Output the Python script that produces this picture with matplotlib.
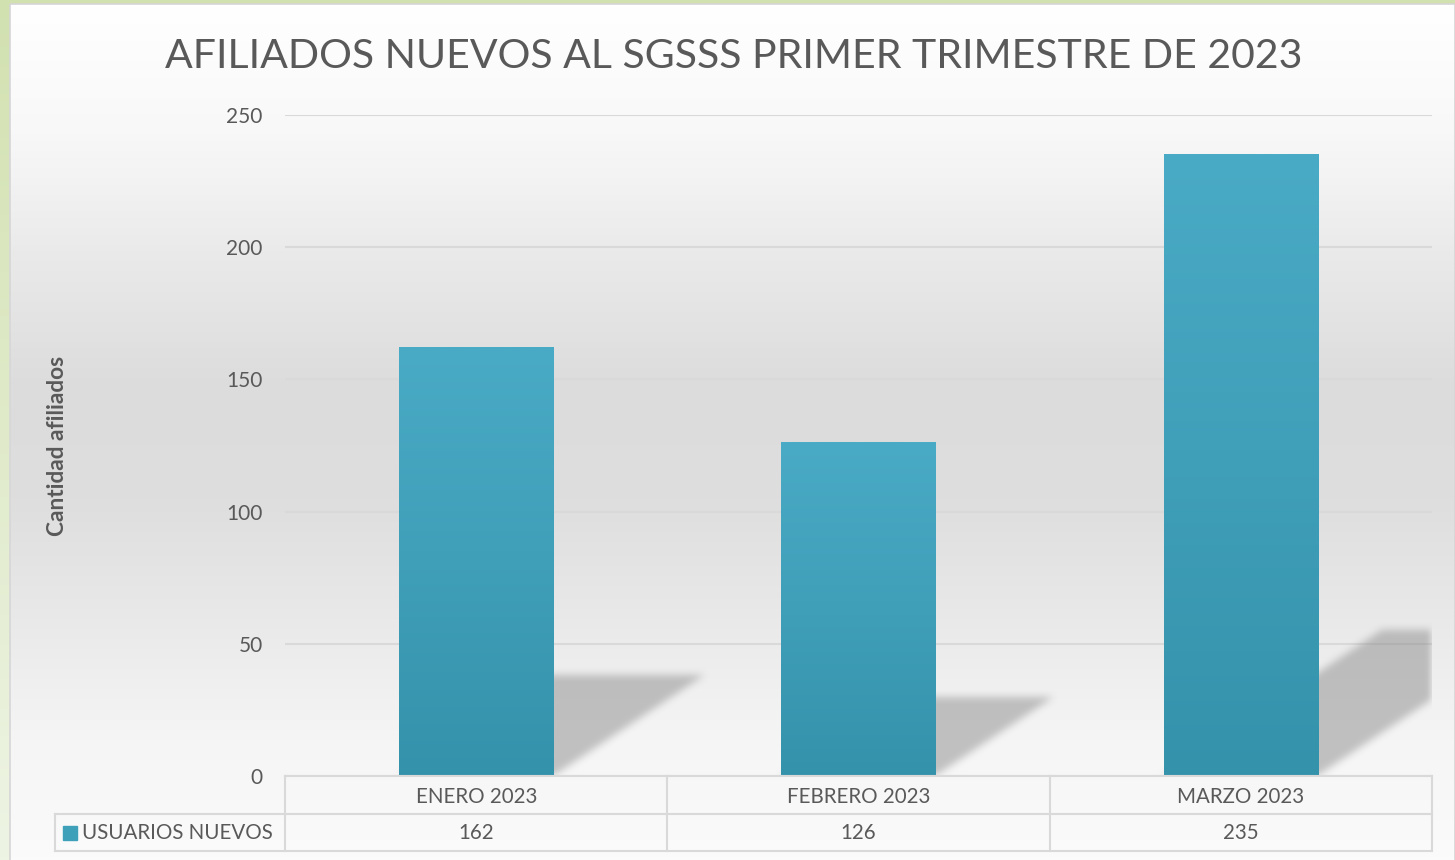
import numpy as np
import matplotlib.pyplot as plt
from matplotlib.colors import LinearSegmentedColormap
from matplotlib.patches import Rectangle

# data
months = ["ENERO 2023", "FEBRERO 2023", "MARZO 2023"]
usuarios = [162, 126, 235]
series_name = "USUARIOS NUEVOS"
title = "AFILIADOS NUEVOS AL SGSSS PRIMER TRIMESTRE DE 2023"
ylabel = "Cantidad afiliados"
yticks = [0, 50, 100, 150, 200, 250]

W, H = 1455, 860
TXT = "#595959"
GRID = "#d9d9d9"
plt.rcParams["font.family"] = ["Lato", "DejaVu Sans"]

fig = plt.figure(figsize=(W / 100, H / 100), dpi=100)

# slide edge + chart panel background
bg = fig.add_axes([0, 0, 1, 1], zorder=-10)
bg.axis("off")
green = LinearSegmentedColormap.from_list("g", ["#d2e1b0", "#eef4e4"])
bg.imshow(np.linspace(0, 1, 256)[:, None], cmap=green, aspect="auto",
          extent=(0, W, H, 0))
panel = LinearSegmentedColormap.from_list(
    "p", [(0, "#ffffff"), (0.15, "#f8f8f8"), (0.3, "#e9e9e9"), (0.45, "#dcdcdc"),
          (0.58, "#dedede"), (0.72, "#e9e9e9"), (0.86, "#f5f5f5"), (1, "#fbfbfb")])
bg.imshow(np.linspace(0, 1, 256)[:, None], cmap=panel, aspect="auto",
          extent=(10, W, H, 4))
bg.add_patch(Rectangle((10, 4), W - 10, H, fc="none", ec="#d6d6d6", lw=1.2))
bg.set_xlim(0, W)
bg.set_ylim(H, 0)

# main plot area
AX_W, AX_H = 1432 - 285, 776 - 115
ax = fig.add_axes([285 / W, (H - 776) / H, AX_W / W, AX_H / H])
ax.set_facecolor("none")
for s in ax.spines.values():
    s.set_visible(False)

bar_w = 154 / 382
bar_cmap = LinearSegmentedColormap.from_list("b", ["#3592ab", "#4aabc6"])
ppy = AX_H / 250   # px per unit
ppx = AX_W / 3     # px per category


def blur(a, r):
    k = np.ones(2 * r + 1) / (2 * r + 1)
    a = np.apply_along_axis(lambda m: np.convolve(m, k, mode="same"), 0, a)
    return np.apply_along_axis(lambda m: np.convolve(m, k, mode="same"), 1, a)


# perspective shadows, rasterised then softened
xs = np.linspace(-0.5, 2.5, AX_W)
ys = np.linspace(0, 250, AX_H)
X, Y = np.meshgrid(xs, ys)
mask = np.zeros_like(X)
for i, v in enumerate(usuarios):
    dy = 0.235 * v
    dx = 1.5 * dy * ppy / ppx
    shift = Y * dx / dy
    inside = (Y <= dy) & (X >= i - bar_w / 2 + shift) & (X <= i + bar_w / 2 + shift)
    mask[inside] = 1
mask = blur(blur(mask, 4), 4)
shadow = np.zeros(mask.shape + (4,))
shadow[..., :3] = 0.53
shadow[..., 3] = mask * 0.48
ax.imshow(shadow, origin="lower", aspect="auto", extent=(-0.5, 2.5, 0, 250),
          zorder=1, interpolation="bilinear")

for i, v in enumerate(usuarios):
    ax.imshow(np.linspace(0, 1, 256)[:, None], cmap=bar_cmap, origin="lower",
              aspect="auto", extent=(i - bar_w / 2, i + bar_w / 2, 0, v), zorder=2)

ax.set_xlim(-0.5, 2.5)
ax.set_ylim(0, 250)
ax.set_xticks([])
ax.set_yticks(yticks)
ax.set_axisbelow(True)
ax.yaxis.grid(True, color=GRID, lw=1.5)
ax.tick_params(axis="y", length=0, pad=16, labelsize=15, labelcolor=TXT)

fig.text(734 / W, 1 - 56 / H, title, ha="center", va="center",
         fontsize=29.5, color=TXT)
fig.text(58 / W, 1 - 446 / H, ylabel, rotation=90, ha="center", va="center",
         fontsize=16.3, fontweight="bold", color=TXT)

# data table
leg_w = (285 - 55) / 382
tax = fig.add_axes([55 / W, (H - 851) / H, (1432 - 55) / W, (851 - 776) / H])
tax.set_xlim(-0.5 - leg_w, 2.5)
tax.set_ylim(0, 2)
tax.axis("off")
lkw = dict(color=GRID, lw=1.5, clip_on=False)
tax.plot([-0.5, 2.5], [2, 2], **lkw)
tax.plot([-0.5 - leg_w, 2.5], [1, 1], **lkw)
tax.plot([-0.5 - leg_w, 2.5], [0, 0], **lkw)
tax.plot([-0.5 - leg_w, -0.5 - leg_w], [0, 1], **lkw)
for xv in [-0.5, 0.5, 1.5, 2.5]:
    tax.plot([xv, xv], [0, 2], **lkw)
for i, (m, v) in enumerate(zip(months, usuarios)):
    tax.text(i, 1.45, m, ha="center", va="center", fontsize=14.8, color=TXT)
    tax.text(i, 0.47, str(v), ha="center", va="center", fontsize=14.8, color=TXT)
tax.add_patch(Rectangle((-0.5 - leg_w + 8 / 382, 0.47 - 7 * 2 / 75),
                        14 / 382, 14 * 2 / 75, color="#3fa0ba", clip_on=False))
tax.text(-0.5 - leg_w + 27 / 382, 0.47, series_name, ha="left", va="center",
         fontsize=14.8, color=TXT)

fig.savefig("out.png", dpi=100)
